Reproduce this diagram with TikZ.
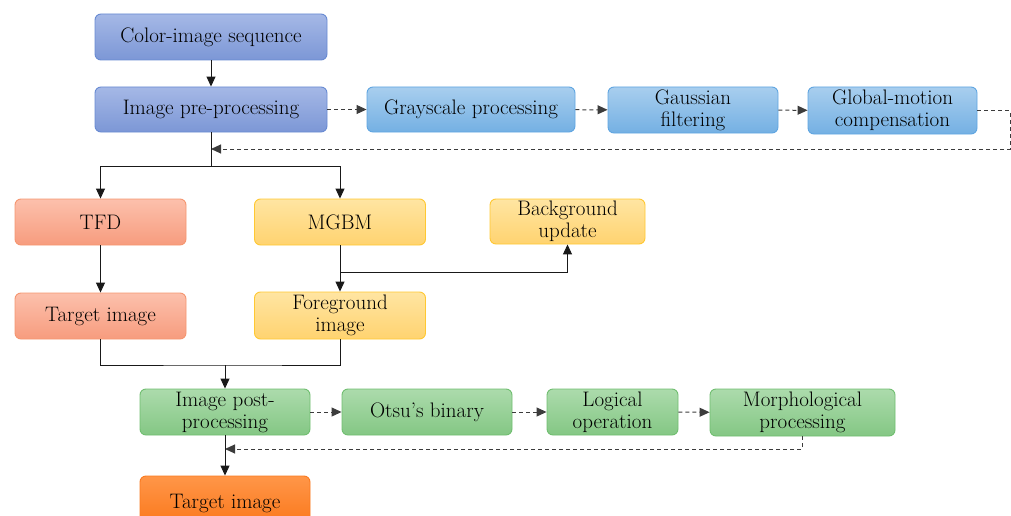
\documentclass[tikz,border=0pt]{standalone}
\usetikzlibrary{arrows.meta}

% box colours
\definecolor{navyTop}{RGB}{165,184,230}
\definecolor{navyBot}{RGB}{124,151,214}
\definecolor{navyLine}{RGB}{104,138,210}
\definecolor{skyTop}{RGB}{168,206,238}
\definecolor{skyBot}{RGB}{116,176,227}
\definecolor{skyLine}{RGB}{95,165,225}
\definecolor{salTop}{RGB}{252,192,172}
\definecolor{salBot}{RGB}{247,156,126}
\definecolor{salLine}{RGB}{245,150,112}
\definecolor{yelTop}{RGB}{255,229,162}
\definecolor{yelBot}{RGB}{255,211,112}
\definecolor{yelLine}{RGB}{255,200,50}
\definecolor{grnTop}{RGB}{172,219,172}
\definecolor{grnBot}{RGB}{132,199,132}
\definecolor{grnLine}{RGB}{112,190,112}
\definecolor{orgTop}{RGB}{255,150,72}
\definecolor{orgBot}{RGB}{250,116,22}
\definecolor{orgLine}{RGB}{250,122,32}
\definecolor{wire}{RGB}{25,25,25}
\definecolor{dwire}{RGB}{60,60,60}

\begin{document}
\begin{tikzpicture}[x=1pt,y=-1pt,
  box/.style={rounded corners=6pt, line width=0.9pt, align=center, inner sep=0pt,
    text=black, font=\fontsize{21}{22}\selectfont},
  navybox/.style={box, draw=navyLine, top color=navyTop, bottom color=navyBot},
  skybox/.style={box, draw=skyLine, top color=skyTop, bottom color=skyBot},
  salbox/.style={box, draw=salLine, top color=salTop, bottom color=salBot},
  yelbox/.style={box, draw=yelLine, top color=yelTop, bottom color=yelBot},
  grnbox/.style={box, draw=grnLine, top color=grnTop, bottom color=grnBot},
  orgbox/.style={box, draw=orgLine, top color=orgTop, bottom color=orgBot},
  wireline/.style={draw=wire, line width=1pt},
  flow/.style={wireline, -{Triangle[length=10pt,width=9pt]}},
  dflow/.style={draw=dwire, line width=1pt, dash pattern=on 4pt off 3pt,
    -{Triangle[length=10pt,width=9pt]}}]

\useasboundingbox (0,0) rectangle (1011,516);
\clip (0,0) rectangle (1011,516);

% pre-processing row
\node[navybox, minimum width=232, minimum height=46] (cis)   at (211,37)    {Color-image sequence};
\node[navybox, minimum width=232, minimum height=45] (pre)   at (211,109.5) {Image pre-processing};
\node[skybox,  minimum width=208, minimum height=45] (gray)  at (471,109.5) {Grayscale processing};
\node[skybox,  minimum width=170, minimum height=46] (gauss) at (693,110)   {Gaussian\\filtering};
\node[skybox,  minimum width=169, minimum height=47] (glob)  at (892.5,110.5) {Global-motion\\compensation};

% detection branches
\node[salbox, minimum width=171, minimum height=46] (tfd)  at (100.5,222) {TFD};
\node[yelbox, minimum width=171, minimum height=46] (mgbm) at (340,222)   {MGBM};
\node[yelbox, minimum width=155, minimum height=45] (bgu)  at (567.5,221.5) {Background\\update};
\node[salbox, minimum width=171, minimum height=46] (tgt)  at (100.5,316) {Target image};
\node[yelbox, minimum width=171, minimum height=47] (fg)   at (340,315.5) {Foreground\\image};

% post-processing row
\node[grnbox, minimum width=170, minimum height=46] (post)  at (225,412)   {Image post-\\processing};
\node[grnbox, minimum width=170, minimum height=46] (otsu)  at (427,412)   {Otsu’s binary};
\node[grnbox, minimum width=131, minimum height=46] (logic) at (612.5,412) {Logical\\operation};
\node[grnbox, minimum width=185, minimum height=47] (morph) at (802.5,412.5) {Morphological\\processing};
\node[orgbox, minimum width=170, minimum height=56] (final) at (225,504)   {\raisebox{5pt}{Target image}};

% main flow
\draw[flow] (cis) -- (pre);
\draw[dflow] (pre) -- (gray);
\draw[dflow] (gray) -- (gauss);
\draw[dflow] (gauss) -- (glob);
\coordinate (ret1) at (1010,110.5);
\coordinate (ret2) at (1010,149);
\coordinate (retend) at (211,149);
\draw[dflow] (glob.east) -- (ret1) -- (ret2) -- (retend);

\coordinate (split) at (211,166);
\draw[wireline] (pre.south) -- (split);
\draw[flow] (split) -| (tfd.north);
\draw[flow] (split) -| (mgbm.north);

\draw[flow] (tfd) -- (tgt);
\draw[flow] (mgbm) -- (fg);
\coordinate (branch) at (340,272);
\draw[flow] (branch) -| (bgu.south);

\coordinate (merge) at (225,365);
\draw[wireline] (tgt.south) |- (merge) -| (fg.south);
\draw[flow] (merge) -- (post.north);

\draw[dflow] (post) -- (otsu);
\draw[dflow] (otsu) -- (logic);
\draw[dflow] (logic) -- (morph);
\coordinate (back1) at (802.5,449);
\coordinate (backend) at (225,449);
\draw[dflow] (morph.south) -- (back1) -- (backend);
\draw[flow] (post) -- (final);
\end{tikzpicture}
\end{document}
